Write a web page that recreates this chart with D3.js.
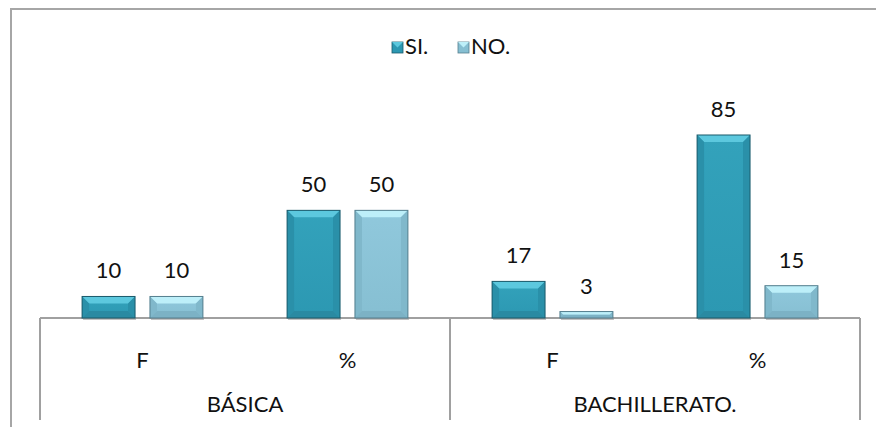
<!DOCTYPE html>
<html><head><meta charset="utf-8">
<script src="https://cdn.jsdelivr.net/npm/d3@7"></script>
<style>body{margin:0;background:#fff}svg{display:block}text{font-family:Lato,"Open Sans",sans-serif;fill:#111}</style>
</head><body><svg id="c" width="876" height="427"></svg>
<script>
const groups = ["BÁSICA", "BACHILLERATO."];
const subcats = ["F", "%"];
const series = ["SI.", "NO."];
const siValues = [10, 50, 17, 85];
const noValues = [10, 50, 3, 15];

const svg = d3.select("#c");
const W = 876, H = 427;
const left = 40, right = 860, axisY = 318, bottomY = 420;
const cats = [];
groups.forEach(g => subcats.forEach(s => cats.push(g + "|" + s)));

const x = d3.scaleBand().domain(cats).range([left, right]).paddingInner(0).paddingOuter(0);
const xg = d3.scaleBand().domain(groups).range([left, right]);
const xs = d3.scaleBand().domain(series).range([0, x.bandwidth()]).paddingInner(0.22).paddingOuter(0.62);
const y = d3.scaleLinear().domain([0, 90]).range([axisY, axisY - 90 * 2.153]);

// frame
svg.append("path").attr("d", `M11,${H} V9 H${W}`).attr("fill", "none").attr("stroke", "#a6a6a6").attr("stroke-width", 2);

const defs = svg.append("defs");
const pal = {
  "SI.": {main: "#2c98b2", top: "#5cc8de", side: "#2a90a9", bot: "#2a8aa2", edge: "#1b5a6b", lite: "#33a2bb"},
  "NO.": {main: "#86bfd2", top: "#bdeff9", side: "#80b8cb", bot: "#7cb2c5", edge: "#557f8e", lite: "#90c8dc"}
};
series.forEach((s, i) => {
  const lg = defs.append("linearGradient").attr("id", "g" + i).attr("x1", 0).attr("x2", 0).attr("y1", 0).attr("y2", 1);
  lg.append("stop").attr("offset", 0).attr("stop-color", pal[s].lite);
  lg.append("stop").attr("offset", 1).attr("stop-color", pal[s].main);
});

const data = [];
cats.forEach((c, ci) => {
  data.push({c, s: "SI.", v: siValues[ci], si: 0});
  data.push({c, s: "NO.", v: noValues[ci], si: 1});
});

// axis lines
svg.append("line").attr("x1", left).attr("x2", right).attr("y1", axisY).attr("y2", axisY).attr("stroke", "#a0a0a0").attr("stroke-width", 2);
[left, xg(groups[1]), right].forEach(px => {
  svg.append("line").attr("x1", px).attr("x2", px).attr("y1", axisY).attr("y2", bottomY).attr("stroke", "#a0a0a0").attr("stroke-width", 2);
});

data.forEach(d => {
  const x0 = x(d.c) + xs(d.s), w = xs.bandwidth();
  const y0 = y(d.v), y1 = y(0);
  const h = y1 - y0;
  const b = Math.min(7, h / 2, w / 2);
  const p = pal[d.s];
  const g = svg.append("g");
  // shadow
  g.append("rect").attr("x", x0 + 1).attr("y", y1 - 1).attr("width", w).attr("height", 3).attr("fill", "#9a9a9a").attr("opacity", 0.6);
  g.append("rect").attr("x", x0).attr("y", y0).attr("width", w).attr("height", h).attr("fill", `url(#g${d.si})`);
  const poly = pts => g.append("polygon").attr("points", pts.map(q => q.join(",")).join(" "));
  poly([[x0, y0], [x0 + w, y0], [x0 + w - b, y0 + b], [x0 + b, y0 + b]]).attr("fill", p.top);
  poly([[x0, y0], [x0 + b, y0 + b], [x0 + b, y1 - b], [x0, y1]]).attr("fill", p.side);
  poly([[x0 + w, y0], [x0 + w - b, y0 + b], [x0 + w - b, y1 - b], [x0 + w, y1]]).attr("fill", p.side);
  poly([[x0, y1], [x0 + b, y1 - b], [x0 + w - b, y1 - b], [x0 + w, y1]]).attr("fill", p.bot);
  g.append("rect").attr("x", x0).attr("y", y0).attr("width", w).attr("height", h).attr("fill", "none").attr("stroke", p.edge).attr("stroke-width", 1);
  svg.append("text").attr("x", x0 + w / 2).attr("y", y0 - 18).attr("text-anchor", "middle").attr("font-size", 22).text(d.v);
});

// category labels
cats.forEach(c => {
  svg.append("text").attr("x", x(c) + x.bandwidth() / 2).attr("y", 368).attr("text-anchor", "middle").attr("font-size", 22).text(c.split("|")[1]);
});
groups.forEach(gname => {
  svg.append("text").attr("x", xg(gname) + xg.bandwidth() / 2).attr("y", 412).attr("text-anchor", "middle").attr("font-size", 22).text(gname);
});

// legend
const legX = [392, 458];
series.forEach((s, i) => {
  const lx = legX[i], ly = 42;
  const p = pal[s], sz = 11;
  const lg = svg.append("g");
  lg.append("rect").attr("x", lx).attr("y", ly).attr("width", sz).attr("height", sz).attr("fill", p.main).attr("stroke", p.edge).attr("stroke-width", 0.8);
  lg.append("polygon").attr("points", `${lx},${ly} ${lx+sz},${ly} ${lx+sz/2},${ly+sz/2}`).attr("fill", p.top);
  svg.append("text").attr("x", lx + 13).attr("y", ly + 12).attr("font-size", 22).text(s);
});
</script></body></html>
